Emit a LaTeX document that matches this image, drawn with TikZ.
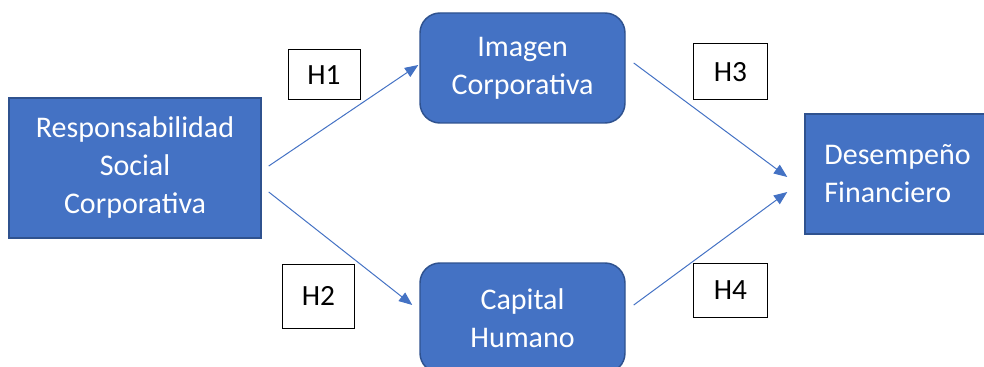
\documentclass[tikz,border=0pt]{standalone}
\usepackage{fontspec}
\setmainfont{Carlito}
\usetikzlibrary{arrows.meta,calc}

\definecolor{boxblue}{RGB}{68,114,196}
\definecolor{boxedge}{RGB}{47,82,143}

\begin{document}
\begin{tikzpicture}[x=0.75pt,y=0.75pt,yscale=-1,xscale=1,
  varbox/.style={draw=boxedge,fill=boxblue,line width=1.1pt,text=white,align=center,inner sep=0pt,font=\fontsize{22.5}{28.5}\selectfont},
  medbox/.style={varbox,rounded corners=15pt,minimum width=153.75pt,minimum height=82.5pt},
  hbox/.style={draw=black,fill=white,line width=0.75pt,inner sep=0pt,minimum width=54pt,font=\fontsize{22}{26}\selectfont},
  hyp/.style={draw=boxblue,line width=0.75pt,-{Triangle[length=10pt,width=8pt]}}]
\useasboundingbox (0,0) rectangle (984,367);

%Shapes: variables
\node (rsc) [varbox,minimum width=189pt,minimum height=105pt] at (135,168) {Responsabilidad\\Social\\Corporativa};
\node (img) [medbox] at (522.5,68) {Imagen\\Corporativa};
\node (hum) [medbox] at (522.5,318) {Capital\\Humano};
\node (dfin) [varbox,align=left,minimum width=138.75pt,minimum height=90pt] at (897.5,174) {Desempeño\\Financiero};

%Straight Lines: hypotheses
\draw [hyp] ($(rsc.east)+(7,-2)$) -- ($(img.west)+(-1,-3)$);
\draw [hyp] ($(rsc.east)+(7,24)$) -- ($(hum.west)+(-7,-13)$);
\draw [hyp] ($(img.east)+(8,-5)$) -- ($(dfin.west)+(-17,3)$);
\draw [hyp] ($(hum.east)+(8,-13)$) -- ($(dfin.west)+(-17,18)$);

% Text Node
\node (h1) [hbox,minimum height=37.5pt] at (324,75) {H1};
% Text Node
\node (h2) [hbox,minimum height=48pt] at (318.5,296) {H2};
% Text Node
\node (h3) [hbox,minimum width=56pt,minimum height=42pt] at (730.5,72) {H3};
% Text Node
\node (h4) [hbox,minimum width=56pt,minimum height=40pt] at (730.5,290.5) {H4};

\end{tikzpicture}
\end{document}
